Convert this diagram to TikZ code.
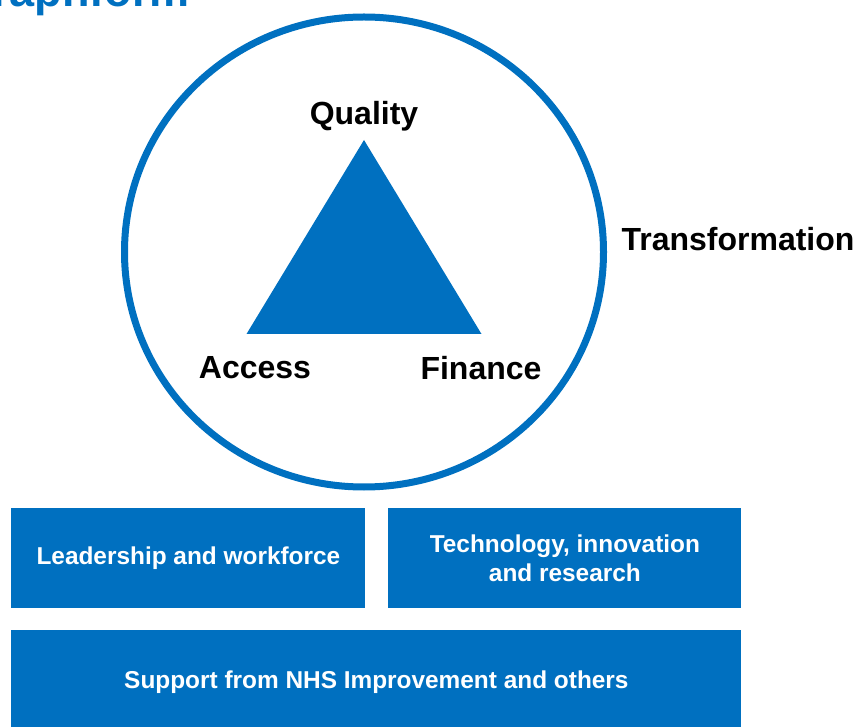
\documentclass[tikz,border=0pt]{standalone}
\usepackage{fontspec}
\setmainfont{Liberation Sans}
\usepackage{tikz}
\definecolor{nhsblue}{HTML}{0070C0}
\tikzset{every node/.style={font=\bfseries},
  corner/.style={font=\fontsize{16}{19}\bfseries, text=black},
  pillar/.style={fill=nhsblue, text=white, align=center, inner sep=0pt,
    font=\fontsize{12.2}{14.5}\bfseries, anchor=north west}}

\begin{document}
\begin{tikzpicture}[x=0.5pt, y=-0.5pt]
    \useasboundingbox (0,0) rectangle (857,727);
    % title, cut off by the page
    \node[anchor=base west, inner sep=0pt, text=nhsblue,
      font=\fontsize{22.5}{26}\bfseries] (title) at (-8,7) {raphform};
    % ring and triangle
    \draw[nhsblue, line width=3.5pt] (364,252) ellipse [x radius=239.5, y radius=235];
    \coordinate (top) at (364,140);
    \coordinate (left) at (246.5,334);
    \coordinate (right) at (481.5,334);
    \fill[nhsblue] (top) -- (left) -- (right) -- cycle;
    \node[corner] (quality) at (364,116) {Quality};
    \node[corner] (access) at (255,368) {Access};
    \node[corner] (finance) at (481,368) {Finance};
    \node[corner] (transf) at (738,239) {Transformation};
    % supporting blocks
    \node[pillar, minimum width=177pt, minimum height=50pt] (lead) at (11,508)
      {Leadership and workforce};
    \node[pillar, minimum width=176.5pt, minimum height=50pt] (tech) at (388,508)
      {Technology, innovation\\and research};
    \node[pillar, minimum width=365pt, minimum height=52pt] (support) at (11,630)
      {Support from NHS Improvement and others};
  \end{tikzpicture}
\end{document}
